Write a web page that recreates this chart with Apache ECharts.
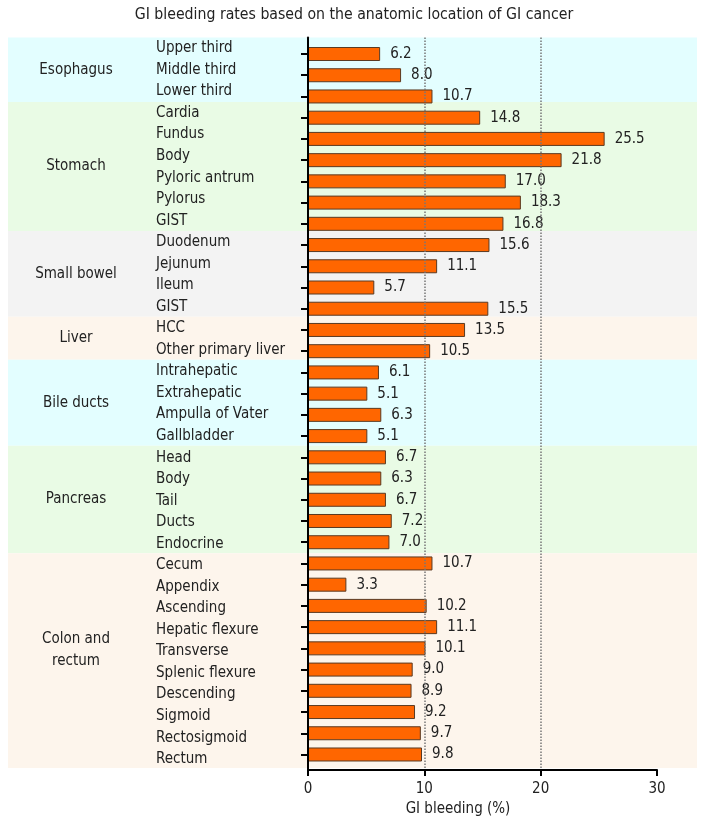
<!DOCTYPE html>
<html><head><meta charset="utf-8">
<script src="https://cdn.jsdelivr.net/npm/echarts@6/dist/echarts.min.js"></script>
<style>html,body{margin:0;padding:0;background:#fff}#c{width:708px;height:821px}</style>
</head><body><div id="c"></div>
<script>
const categories = ['Upper third','Middle third','Lower third','Cardia','Fundus','Body','Pyloric antrum','Pylorus','GIST','Duodenum','Jejunum','Ileum','GIST','HCC','Other primary liver','Intrahepatic','Extrahepatic','Ampulla of Vater','Gallbladder','Head','Body','Tail','Ducts','Endocrine','Cecum','Appendix','Ascending','Hepatic flexure','Transverse','Splenic flexure','Descending','Sigmoid','Rectosigmoid','Rectum'];
const values = [6.2,8.0,10.7,14.8,25.5,21.8,17.0,18.3,16.8,15.6,11.1,5.7,15.5,13.5,10.5,6.1,5.1,6.3,5.1,6.7,6.3,6.7,7.2,7.0,10.7,3.3,10.2,11.1,10.1,9.0,8.9,9.2,9.7,9.8];
const groups = ['Esophagus','Stomach','Small bowel','Liver','Bile ducts','Pancreas','Colon and\nrectum'];
const groupSizes = [3,6,4,2,4,5,10];
const groupColors = ['#e3feff','#e9fbe5','#f3f3f3','#fdf5ec','#e3feff','#e9fbe5','#fdf5ec'];
const groupLabelY = ['50%','50%','50%','50%','50%','50%','45%'];
const xTicks = [0,10,20,30];
const refLines = [10,20];

const FONT = '"DejaVu Sans Condensed", "DejaVu Sans", sans-serif';
const TXT = '#222';

const bands = [];
let start = 0;
groups.forEach((g, i) => {
  const end = start + groupSizes[i];
  bands.push([
    { xAxis: 0, yAxis: start, itemStyle: { color: groupColors[i] },
      label: { show: true, formatter: g, position: [68, groupLabelY[i]], align: 'center', verticalAlign: 'middle',
               fontFamily: FONT, fontSize: 15, color: TXT, lineHeight: 22 } },
    { xAxis: 1, yAxis: end }
  ]);
  start = end;
});
const total = start;

const chart = echarts.init(document.getElementById('c'), null, { renderer: 'canvas' });
chart.setOption({
  animation: false,
  backgroundColor: '#fff',
  title: [
    { text: 'GI bleeding rates based on the anatomic location of GI cancer', left: 'center', top: 7, padding: 0,
      textStyle: { fontFamily: FONT, fontSize: 15.7, fontWeight: 'normal', color: TXT } },
    { text: 'GI bleeding (%)', left: 458, textAlign: 'center', top: 802, padding: 0,
      textStyle: { fontFamily: FONT, fontSize: 15, fontWeight: 'normal', color: TXT } }
  ],
  grid: [
    { left: 8, right: 11, top: 37.6, bottom: 53 },
    { left: 308, right: 51, top: 37.6, bottom: 51 },
    { left: 308, right: 51, top: 43.4, bottom: 55.9 }
  ],
  xAxis: [
    { gridIndex: 0, type: 'value', min: 0, max: 1, show: false },
    { gridIndex: 1, type: 'value', min: xTicks[0], max: xTicks[xTicks.length - 1], interval: 10, z: 10,
      axisLine: { show: true, lineStyle: { color: '#000', width: 2 } },
      axisTick: { show: true, length: 6, lineStyle: { color: '#000', width: 2 } },
      axisLabel: { fontFamily: FONT, fontSize: 15, color: TXT, margin: 12 },
      splitLine: { show: false } },
    { gridIndex: 2, type: 'value', min: 0, max: 30, show: false }
  ],
  yAxis: [
    { gridIndex: 0, type: 'value', min: 0, max: total, inverse: true, show: false },
    { gridIndex: 1, type: 'category', data: categories, inverse: true, z: 10,
      axisLine: { show: true, lineStyle: { color: '#000', width: 2 } },
      axisTick: { show: false },
      axisLabel: { interval: 0, align: 'left', margin: 152, fontFamily: FONT, fontSize: 15, color: TXT } },
    { gridIndex: 2, type: 'category', data: categories, inverse: true, z: 10,
      axisLine: { show: false },
      axisTick: { show: true, alignWithLabel: true, length: 7, lineStyle: { color: '#000', width: 2 } },
      axisLabel: { show: false } }
  ],
  series: [
    { type: 'scatter', xAxisIndex: 0, yAxisIndex: 0, data: [[0, 0]], symbolSize: 0, silent: true, z: -5,
      markArea: { silent: true, data: bands } },
    { type: 'scatter', xAxisIndex: 1, yAxisIndex: 1, data: [[0, 0]], symbolSize: 0, silent: true, z: 1,
      markLine: { silent: true, symbol: 'none', label: { show: false },
        lineStyle: { type: 'dotted', color: '#777', width: 1.5 },
        data: refLines.map(v => ({ xAxis: v })) } },
    { type: 'bar', xAxisIndex: 2, yAxisIndex: 2, data: values, barWidth: 14, z: 3,
      itemStyle: { color: '#ff6600', borderColor: '#5a3a22', borderWidth: 1 },
      label: { show: true, position: 'right', distance: 10, fontFamily: FONT, fontSize: 15, color: TXT,
        formatter: p => p.value.toFixed(1) } }
  ]
});
</script></body></html>
